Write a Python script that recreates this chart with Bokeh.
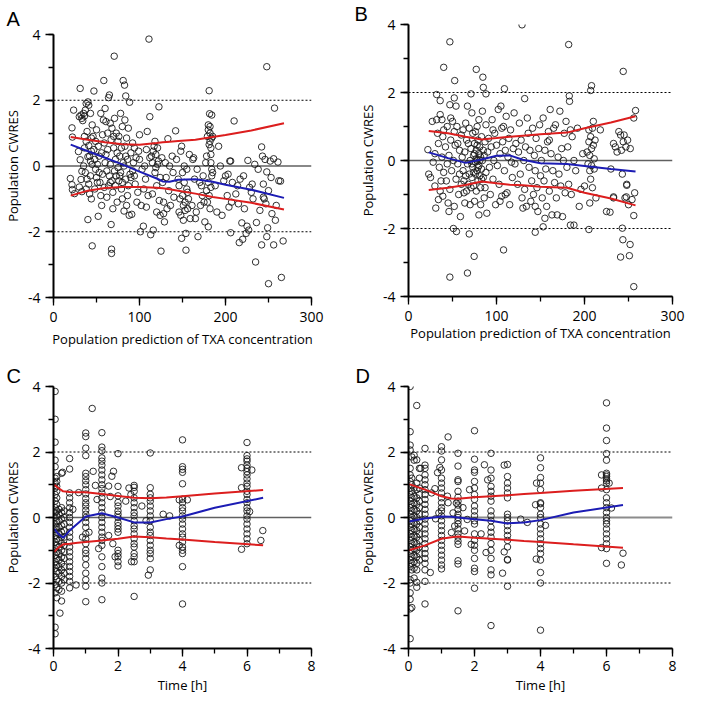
from bokeh.plotting import figure
from bokeh.layouts import row, column
from bokeh.models import Range1d, SingleIntervalTicker, Span, Title
from bokeh.embed import file_html
from bokeh.resources import INLINE

FONT = "Open Sans"
LETTER_FONT = "Liberation Sans"

# ---------------- Panel A : CWRES vs population prediction ----------------
a_points = [
    (19.6, -0.38), (21.5, -0.57), (22, -0.72), (23.4, 1.7), (21.5, 1.16), (22, 0.88), (24.5, -0.84), (30, -0.64),
    (29, 0.44), (31, 0.19), (33, -0.16), (32, -0.41), (31, 2.36),
    (30, 1.5), (32, 1.55), (33, 1.45), (34, 1.38), (35, 1.6), (36, 1.52), (37, 1.7), (38, 1.9), (40, 1.95), (41, 1.85),
    (36, 0.9), (38, 0.75), (39, 1.05), (41, 0.62), (42, 0.3), (40, 0.28), (43, 0.15), (44, 0.45), (35, 0.0), (37, -0.2),
    (39, -0.4), (41, -0.55), (43, -0.3), (45, 0.05), (38, -0.7), (42, -0.85), (44, -1.0), (40, -1.63), (45, -2.43),
    (33, -0.78), (36, 0.55), (44, 0.85), (45, 1.25), (43, 1.6),
    (46, 0.9), (47, 0.5), (48, 0.2), (49, -0.1), (50, -0.35), (51, 0.05), (52, 0.6), (53, 0.3), (54, -0.5), (55, -0.9),
    (56, -1.2), (57, 0.95), (58, 1.4), (59, 0.7), (60, 0.1), (47, 2.28), (58.5, 2.6), (52, -1.53), (48, -0.7), (50, 1.1),
    (55, 1.6), (57, -0.25), (59, -0.65), (60, 1.75), (53, -0.2), (56, 0.4), (49, 0.75), (51, -0.5),
    (61, 0.35), (62, -0.15), (63, 1.0), (64, 2.08), (65, 2.16), (66, 1.3), (67, 0.8), (68, -0.45), (69, -0.8), (70, 0.55),
    (71, 1.45), (72, 0.2), (73, -0.3), (74, -1.1), (75, 0.75), (70.6, 3.34), (67.5, -2.53), (67.5, -2.66), (67, -1.78),
    (62, -0.95), (64, -0.6), (66, 0.05), (68, 1.15), (72, -0.6), (74, 0.4), (61, 1.35), (73, 1.0), (75, -0.05),
    (69, -1.3), (65, -0.3), (63, 0.5), (71, -0.15), (66, -0.5), (70, 0.9),
    (76, 0.9), (77, 0.3), (78, -0.2), (79, -0.7), (80, 1.2), (81, 2.6), (82.6, 2.46), (84, 2.13), (82, -1.37), (83, 0.6),
    (84, -0.4), (85, -1.2), (86, 0.2), (87, 1.15), (88.5, 1.94), (89, -0.25), (90, 0.4), (78, 1.6), (80, -1.0),
    (82, 0.0), (85, 0.85), (87, -0.6), (88, -1.5), (90, -0.35), (76, -0.45), (79, 0.55), (83, 1.4), (86, -0.9),
    (77, -0.3), (81, 0.1), (84, 0.3), (80, -0.5),
    (91, -1.47), (92, 0.7), (93, 0.1), (94, -0.3), (95, -0.55), (96, 0.25), (98, -0.8), (99, 0.45), (100, 0.95),
    (101, -2.0), (102, -1.2), (103, -0.1), (104.5, -1.83), (105, -0.7), (97, -1.1), (100, 0.2), (92, -0.15), (94, 0.55),
    (106, 0.0), (107, -0.4), (108, 0.5), (109, 1.05), (111, 3.86), (112, 1.5), (113, -2.09), (114, 0.3), (115, 0.1),
    (116, -1.95), (117, 0.6), (118, -0.2), (119, 0.35), (120, -0.6), (121, 0.05), (122.6, 1.8), (123, -1.05),
    (124, -0.35), (125, -2.59), (115, -0.85), (118, 0.75), (120, -1.4), (110, -0.9), (112, 0.25), (116, 0.45),
    (119, -0.05), (122, 0.15), (108, -1.25), (124, -1.5), (121, 0.55),
    (126, 0.25), (127, -0.5), (128, -1.1), (129, -1.7), (130, 0.1), (131, -0.35), (133, 0.83), (134, -0.75),
    (136, -1.2), (138, 0.3), (140, -0.95), (142, 1.07), (143, 0.2), (145, -0.4), (128, -1.45), (132, -1.3),
    (135, 0.0), (139, -0.2),
    (146, -0.6), (147, -1.0), (148, -1.5), (149, -2.2), (149, 0.6), (150, -0.2), (150, -0.9), (151, -1.2),
    (151, -1.65), (152, 0.0), (152, -0.5), (153, -1.35), (153, -1.1), (154, -2.56), (154, -2.05), (155, -0.7),
    (155, -0.1), (156, -1.3), (156, -0.8), (158, 0.35), (148, 0.45), (146, -1.4), (157, -1.0), (159, -1.6),
    (161, -1.2), (162, 0.2), (163, 0.25), (164, -0.4), (165, -1.6), (166, -1.4), (168, -2.15), (170, -0.5),
    (171, -1.2), (172, -0.6), (174, -0.3), (175, -1.1), (176, -1.7), (177, 0.1), (167, -0.1), (173, -0.9),
    (178, 0.3), (179, 0.9), (180, 1.25), (180, 1.1), (181, 0.65), (181, 2.29), (181.5, 1.59), (182, 1.2), (182, 1.0),
    (182, 0.75), (183, 0.55), (183, 0.35), (183, 0.1), (184, -0.1), (184, -0.3), (180, -0.5), (181, -0.9),
    (179, -1.1), (182, -1.3), (180, -1.85), (185, 0.9), (185, -0.2), (184, 1.55), (183, -0.65), (178, -0.75),
    (184, 0.85),
    (188, -0.6), (190, -1.4), (192, 0.6), (194, 0.0), (196, -1.5), (198, -0.45), (200, -0.3), (202, -0.9),
    (204, -1.25), (205, 0.15), (206, 0.15), (206, -2.03), (208, -0.5), (210, 1.37), (203, -0.25), (207, -1.1),
    (212, -0.85), (214, -0.6), (216, -2.33), (217, -0.4), (219, -1.73), (220, -2.23), (221, -0.3), (222, -1.3),
    (224, -2.05), (225, -1.83), (226, 0.17), (228, -0.65), (230, -0.8), (232, -1.0), (234, 0.05), (235, -2.92),
    (236, -1.72), (238, -0.1), (240, -1.35), (215, -1.15), (227, -1.95), (231, -0.55),
    (242, 0.58), (242, -2.4), (243, 0.3), (244, -0.55), (245, -1.0), (246, 0.2), (247, -1.15), (248, -0.18),
    (248, -2.15), (249, -1.88), (250, -3.58), (250, -0.75), (252, 0.15), (253, -0.35), (254, -1.45), (256, 0.22),
    (256, -2.4), (257, 1.76), (258, -1.65), (259, -1.2), (261, 0.12), (262, -0.45), (264, -0.46), (265, -3.39),
    (267, -2.28), (248, 3.02), (244, -0.95),
]
a_fit_x = [20, 40, 60, 80, 100, 120, 127, 135, 145, 165, 185, 200, 230, 268]
a_upper = [0.88, 0.8, 0.72, 0.66, 0.65, 0.7, 0.72, 0.74, 0.76, 0.8, 0.88, 0.94, 1.08, 1.3]
a_lower = [-0.9, -0.75, -0.67, -0.64, -0.64, -0.66, -0.68, -0.71, -0.75, -0.84, -0.94, -1.0, -1.12, -1.32]
a_mid = [0.65, 0.45, 0.25, 0.05, -0.17, -0.38, -0.47, -0.48, -0.42, -0.4, -0.48, -0.57, -0.72, -0.97]

# ---------------- Panel B ----------------
b_points = [
    (129, 3.99), (47, 3.49), (182, 3.41), (40, 2.74), (77, 2.68), (52.5, 2.35), (84.5, 2.45), (85, 2.15), (109, 2.11),
    (244, 2.62), (208, 2.2), (207, 2.06), (182.7, 1.9), (183, 1.74), (132, 1.82), (32, 1.94), (71, 1.96), (88, 1.96),
    (36, 1.76), (52, 1.84), (47, 1.64), (258, 1.47),
    (47, -3.43), (67, -3.31), (74.6, -2.82), (69, -2.16), (108, -2.63), (51, -2.0), (54.5, -2.09), (144, -2.11),
    (153, -1.95), (205, -2.03), (188, -1.9), (184, -1.9), (243, -1.99), (243.6, -2.33), (251, -2.8), (251.8, -2.47),
    (256, -3.71), (241, -2.84), (256, -1.62), (257, -0.95), (248, -0.73), (247.5, -1.07), (233, -1.07), (229, -1.52),
    (22, 0.32), (23, -0.4), (25, -0.5), (28, -0.05), (30, -0.75), (31, -1.4), (32, 1.2), (33, 0.8), (34, 0.5),
    (35, -0.2), (36, 1.35), (37, -0.6), (38, 0.1), (39, -1.05), (40, 0.9), (40, -0.35), (34, -1.15), (36, -0.9),
    (30, 0.2), (27, 1.15), (38, 1.2), (39, 0.7),
    (42, 0.4), (43, -0.6), (44, 1.0), (45, -1.25), (46, 0.15), (47, -0.85), (48, 0.6), (49, -0.3), (50, 1.15),
    (51, 0.0), (52, -1.35), (53, 0.45), (54, -0.55), (55, 1.0), (56, -0.1), (57, -1.0), (58, 0.3), (59, -1.65),
    (60, 0.75), (44, -0.1), (48, 1.25), (52, 0.85), (56, 0.5), (58, -0.4), (60, -0.7), (54, 1.6), (46, -1.5),
    (61, 0.1), (62, -0.3), (63, -0.6), (64, 0.25), (65, 1.1), (66, -0.9), (67, -0.1), (68, 0.5), (69, -0.4),
    (70, -1.3), (70, 0.0), (71, 0.35), (72, -0.5), (72, 1.4), (73, -0.2), (73, 0.8), (74, -0.75), (74, 0.15),
    (75, -1.2), (75, 0.5), (76, -0.4), (76, -0.05), (77, 0.3), (77, -0.9), (78, 0.0), (78, -0.3), (78, 1.0),
    (79, -0.6), (79, 0.6), (80, 0.2), (80, -0.15), (80, -1.6), (81, 0.4), (81, -0.45), (82, 0.1), (82, -0.8),
    (83, 0.7), (83, -0.25), (84, 0.0), (84, 1.45), (85, -0.5), (85, 0.3), (86, -1.1), (86, 0.15), (87, 0.55),
    (88, -0.35), (88, 1.05), (89, -1.55), (90, 0.25), (62, 0.9), (64, -1.25), (66, 0.6), (68, -0.7), (67, 1.6),
    (69, 0.95), (71, -0.8), (76, 0.85), (80, 1.2), (82, -1.3), (87, -0.8), (63, -0.95), (65, -0.45),
    (74, -0.35), (77, 0.05), (79, -0.2), (81, 0.0), (83, -0.55), (75, 0.2), (78, 0.45), (72, -0.1),
    (91, 0.65), (92, -0.2), (93, -1.0), (94, 0.4), (95, 1.2), (96, -0.55), (97, 0.0), (98, 0.8), (99, -1.3),
    (100, 0.45), (101, -0.15), (102, 1.5), (103, -0.7), (104, 0.2), (105, 1.6), (106, -1.05), (107, 0.55),
    (108, 1.0), (109, -0.3), (110, 0.3), (111, 1.3), (112, -0.95), (113, 0.1), (114, 0.65), (115, -1.3), (116, 0.9),
    (118, -0.5), (119, 0.35), (120, 1.4), (104, -1.2), (106, 0.95), (110, -1.0), (117, -0.05), (96, 0.9),
    (121, -0.1), (122, 0.5), (124, -0.7), (125, 0.25), (126, 1.1), (127, -0.4), (128, 0.6), (130, -1.4), (131, 0.0),
    (132, -0.85), (133, 0.4), (134, -1.35), (136, 0.8), (137, -0.2), (138, 0.3), (140, -0.6), (141, 0.95),
    (142, -1.0), (143, 0.15), (144, -0.3), (145, 0.65), (146, -0.8), (147, -1.5), (148, 0.35), (149, 1.05),
    (150, -0.45), (129, -1.1), (135, 1.25), (139, -1.2), (144, -1.35),
    (151, 0.0), (152, -1.1), (153, 1.25), (154, -0.6), (155, 0.3), (156, -0.25), (157, -1.35), (158, 0.55),
    (159, 0.85), (160, -0.9), (161, 1.5), (162, 0.2), (163, -1.6), (164, -0.3), (165, 0.95), (166, -0.65),
    (167, 1.05), (168, -1.1), (170, 0.1), (171, -0.4), (172, 1.45), (173, -0.75), (174, 0.35), (175, -1.65),
    (176, 0.0), (177, 0.8), (178, -0.95), (179, 1.15), (180, -0.2), (155, -1.7), (160, 0.6), (169, -1.6),
    (181, 0.4), (182, -0.7), (184, 0.9), (185, -1.0), (186, 0.7), (188, 0.0), (190, -0.3), (192, 0.95),
    (194, -1.35), (196, -0.85), (198, 0.2), (200, -0.75), (203, 0.25), (204, -0.1), (205, 0.55), (205, 0.9),
    (206, -0.3), (206, 0.15), (207, 0.7), (207, -0.55), (208, 0.35), (208, -0.15), (209, 0.95), (209, -0.8),
    (210, 0.45), (210, 1.15), (211, 0.05), (211, -0.25), (212, 0.6), (213, -1.1), (206, -1.25),
    (218, 0.9), (225, -1.5), (230, -0.25), (233, 0.5), (235, 0.4), (237, 0.25), (239, 0.85), (241, 0.75),
    (242, 0.3), (243, -0.4), (244, 0.55), (245, 0.75), (246, -1.1), (247, 0.4), (248, -0.7), (249, 0.6),
    (250, -1.3), (252, 0.35), (254, -1.15), (256, 1.25), (233, -1.1),
]
b_fit_x = [23, 45, 65, 83, 100, 115, 130, 150, 180, 200, 230, 258]
b_upper = [0.87, 0.8, 0.7, 0.62, 0.66, 0.7, 0.73, 0.77, 0.82, 0.95, 1.12, 1.3]
b_lower = [-0.87, -0.8, -0.72, -0.62, -0.67, -0.71, -0.73, -0.77, -0.8, -0.95, -1.12, -1.32]
b_mid = [0.24, 0.07, -0.07, 0.03, 0.14, 0.15, 0.02, -0.08, -0.1, -0.16, -0.25, -0.32]

# ---------------- Panel C : CWRES vs time ----------------
c_times = [0.05, 0.1, 0.17, 0.25, 0.33, 0.5, 1.0, 1.5, 2.0, 2.5, 3.0, 4.0, 6.0]
c_values = [
    [3.85, 3.0, 2.3, 1.75, 1.55, 1.2, 1.05, 0.9, 0.7, 0.5, 0.3, 0.15, 0.0, -0.2, -0.35, -0.55, -0.75, -0.95,
     -1.15, -1.35, -1.55, -1.8, -2.05, -2.3, -3.35, -3.55],
    [1.25, 1.1, 0.95, 0.8, 0.6, 0.4, 0.2, 0.05, -0.1, -0.3, -0.45, -0.65, -0.85, -1.05, -1.25, -1.45, -1.65,
     -1.9, -2.15, -2.45],
    [0.25, 0.1, -0.1, -0.3, -0.5, -0.7, -0.9, -1.1, -1.3, -1.5, -1.7, -1.95, -2.2],
    [1.35, 0.3, 0.15, -0.05, -0.25, -0.45, -0.6, -0.8, -1.0, -1.2, -1.4, -1.6, -1.8, -2.0, -2.25, -2.55],
    [0.2, 0.0, -0.2, -0.4, -0.6, -0.85, -1.05, -1.25, -1.5, -1.7, -1.9],
    [1.8, 1.48, 0.75, 0.6, 0.45, 0.3, 0.15, 0.0, -0.15, -0.3, -0.45, -0.6, -0.75, -0.9, -1.05, -1.2, -1.35,
     -1.5, -1.65, -1.8, -1.95, -2.15],
    [2.58, 2.47, 2.12, 1.89, 1.35, 1.25, 1.12, 1.0, 0.85, 0.72, 0.58, 0.45, 0.35, 0.22, 0.1, 0.0, -0.15, -0.3,
     -0.5, -0.65, -0.8, -1.0, -1.1, -1.25, -1.45, -1.7, -1.9, -2.1, -2.57],
    [2.59, 2.15, 2.04, 1.82, 1.72, 1.6, 1.45, 1.3, 1.15, 1.0, 0.88, 0.75, 0.6, 0.45, 0.3, 0.15, 0.0, -0.15,
     -0.3, -0.45, -0.6, -0.7, -0.85, -1.2, -1.5, -1.85, -2.0, -2.51],
    [1.95, 0.95, 0.66, 0.46, 0.35, 0.2, 0.1, 0.0, -0.15, -0.25, -0.35, -0.45, -1.0, -1.1, -1.2, -1.35, -1.48],
    [0.98, 0.92, 0.8, 0.6, 0.45, 0.3, 0.15, 0.05, -0.1, -0.25, -0.35, -0.5, -0.65, -0.8, -0.9, -1.1, -1.2,
     -1.35, -2.41],
    [1.97, 0.91, 0.71, 0.6, 0.5, 0.35, 0.2, 0.05, -0.1, -0.3, -0.45, -0.55, -0.7, -0.85, -1.0, -1.1, -1.25, -1.6],
    [2.37, 1.55, 1.47, 1.38, 1.03, 0.56, 0.45, 0.3, 0.2, 0.05, -0.05, -0.2, -0.35, -0.5, -0.6, -0.75, -0.9,
     -1.0, -1.1, -1.5, -2.64],
    [2.29, 1.89, 1.79, 1.72, 1.6, 1.5, 1.4, 1.3, 1.18, 1.05, 0.95, 0.8, 0.7, 0.55, 0.45, 0.3, 0.2, 0.05, -0.05,
     -0.2, -0.35, -0.5, -0.65, -0.8],
]
c_extra = [
    (0.2, -2.92), (0.28, 1.38), (0.7, -2.06), (0.78, 0.76), (1.2, 3.33), (1.23, 1.41), (1.3, 0.98), (1.35, 0.55),
    (1.71, 0.96), (1.76, 0.64), (1.81, 1.26), (1.86, 1.41), (1.71, -0.55), (1.84, -0.8), (1.91, -1.2),
    (2.24, 0.5), (2.34, 0.9), (2.4, 0.7), (2.42, -1.35), (2.74, 0.35), (2.87, -0.1), (2.94, -1.76), (3.4, 0.1),
    (3.6, 0.05), (3.9, 0.54), (3.9, -0.85), (4.15, 0.54), (5.83, 1.52), (5.83, 0.91), (5.83, -0.97), (6.15, 1.45),
    (6.08, 0.18), (6.49, -0.4), (6.43, -0.7), (1.1, -0.45), (1.4, -0.95), (0.6, 0.25), (0.9, -0.6),
]
c_fit_t = [0.02, 0.15, 0.3, 0.5, 0.75, 1.0, 1.5, 2.0, 2.5, 3.0, 3.5, 4.0, 5.0, 6.5]
c_upper = [1.0, 0.9, 0.8, 0.78, 0.77, 0.77, 0.72, 0.66, 0.6, 0.59, 0.61, 0.65, 0.73, 0.84]
c_lower = [-1.05, -0.92, -0.82, -0.8, -0.77, -0.75, -0.7, -0.65, -0.58, -0.6, -0.64, -0.67, -0.75, -0.85]
c_mid = [-0.35, -0.5, -0.62, -0.4, -0.18, 0.03, 0.13, 0.0, -0.15, -0.15, -0.05, 0.03, 0.3, 0.6]

# ---------------- Panel D ----------------
d_times = [0.05, 0.1, 0.17, 0.25, 0.33, 0.5, 1.0, 1.5, 2.0, 2.5, 3.0, 4.0, 6.0]
d_values = [
    [4.0, 2.62, 2.21, 2.06, 1.5, 1.3, 1.1, 0.9, 0.7, 0.5, 0.3, 0.1, -0.1, -0.3, -0.5, -0.7, -0.9, -1.1, -1.3,
     -1.5, -1.9, -2.0, -2.3, -2.5, -2.79, -3.7],
    [1.85, 1.2, 1.0, 0.8, 0.6, 0.4, 0.2, 0.0, -0.2, -0.4, -0.6, -0.8, -1.0, -1.2, -1.4, -1.6, -2.75],
    [1.9, 1.75, 0.9, 0.65, 0.45, 0.25, 0.05, -0.15, -0.35, -0.55, -0.75, -0.95, -1.15, -1.35, -1.55, -1.85],
    [3.42, 1.76, 1.05, 0.85, 0.6, 0.4, 0.2, 0.0, -0.2, -0.4, -0.6, -0.8, -1.0, -1.2, -1.4, -1.6, -1.98, -2.13],
    [1.5, 1.2, 0.9, 0.7, 0.5, 0.3, 0.1, -0.1, -0.3, -0.5, -0.7, -0.9, -1.1, -1.3],
    [2.11, 1.6, 1.5, 1.3, 1.15, 1.0, 0.85, 0.7, 0.55, 0.4, 0.25, 0.1, -0.05, -0.2, -0.35, -0.5, -0.65, -0.8,
     -0.95, -1.1, -1.25, -1.4, -1.6, -1.95, -2.64],
    [2.16, 2.03, 1.76, 1.45, 1.2, 1.05, 0.9, 0.75, 0.6, 0.45, 0.3, 0.2, 0.05, -0.1, -0.25, -0.4, -0.55, -0.7,
     -0.85, -1.0, -1.15, -1.3, -1.45, -1.57],
    [1.96, 1.57, 1.15, 1.1, 0.8, 0.62, 0.5, 0.38, 0.25, 0.1, 0.0, -0.1, -0.2, -0.35, -0.5, -0.6, -0.72, -0.82,
     -1.32, -1.42, -2.85],
    [2.65, 1.78, 1.45, 1.38, 1.1, 0.9, 0.7, 0.55, 0.35, 0.2, 0.05, -0.1, -0.2, -0.5, -0.7, -0.85, -1.0, -1.25,
     -1.55, -1.65, -2.16],
    [1.96, 1.45, 1.2, 0.95, 0.8, 0.65, 0.5, 0.2, 0.05, -0.1, -0.3, -0.45, -0.6, -0.8, -1.0, -1.25, -1.6, -1.75,
     -3.3],
    [1.62, 1.25, 1.05, 0.9, 0.75, 0.6, 0.1, 0.0, -0.1, -0.25, -0.4, -0.55, -0.7, -0.9, -1.28, -1.3, -2.1],
    [1.82, 1.52, 1.22, 1.05, 0.85, 0.45, 0.42, 0.3, 0.1, 0.0, -0.2, -0.35, -0.5, -0.65, -0.8, -0.95, -1.1, -1.3,
     -1.68, -2.0, -3.44],
    [3.5, 2.73, 2.35, 1.95, 1.75, 1.35, 1.3, 1.25, 1.18, 1.12, 1.05, 0.85, 0.6, 0.45, 0.3, 0.15, 0.0, -0.1,
     -0.2, -0.35, -0.5, -0.65, -0.8, -0.95, -1.4],
]
d_extra = [
    (0.37, 1.5), (0.66, -1.68), (0.8, 0.88), (0.88, 1.37), (0.95, 1.53), (0.92, 0.14), (0.82, -0.04), (1.2, 2.46),
    (1.18, 0.65), (1.35, 0.14), (1.4, -0.26), (1.3, -0.46), (1.45, 0.44), (1.7, -0.41), (1.85, 0.85),
    (1.78, -0.06), (1.9, -0.82), (2.3, 1.61), (2.4, 1.15), (2.35, -1.07), (2.9, 1.6), (2.9, -1.05), (2.85, -1.7),
    (3.4, -0.05), (3.6, -0.15), (3.85, 0.39), (3.88, 1.05), (3.87, -1.27), (4.15, -0.24), (5.85, 0.9),
    (5.85, 1.3), (5.85, -0.92), (6.15, 0.29), (6.08, 1.05), (6.45, -1.45), (6.5, -1.09), (2.2, -0.5), (1.65, 0.3),
    (0.7, 0.75), (1.2, 0.45),
]
d_fit_t = [0.02, 0.5, 1.0, 1.3, 1.5, 2.0, 2.5, 3.0, 3.5, 4.0, 5.0, 6.5]
d_upper = [1.02, 0.85, 0.65, 0.58, 0.57, 0.62, 0.65, 0.68, 0.72, 0.75, 0.82, 0.9]
d_lower = [-1.0, -0.85, -0.65, -0.6, -0.58, -0.62, -0.65, -0.68, -0.72, -0.75, -0.82, -0.92]
d_mid = [-0.12, -0.03, 0.03, 0.02, 0.0, -0.05, -0.1, -0.18, -0.15, -0.08, 0.15, 0.38]

y_label = "Population CWRES"
x_label_conc = "Population prediction of TXA concentration"
x_label_time = "Time [h]"

RED = "#dc1e1e"
BLUE = "#1c1cb4"


def make_panel(width, height, bl, br, bt, bb, xmax, xint, xlabel, letter, loff, lstand,
               xstand, xlstand, zero_color="#606060", zero_width=1.4):
    title = Title(text=letter, align="left", offset=loff, text_font=LETTER_FONT, text_font_size="20px",
                  text_font_style="normal", text_color="black", standoff=lstand)
    p = figure(width=width, height=height, x_range=Range1d(0, xmax), y_range=Range1d(-4, 4),
               output_backend="svg", toolbar_location=None, title=title,
               min_border_left=bl, min_border_right=br, min_border_top=bt, min_border_bottom=bb)
    p.outline_line_color = None
    p.xgrid.visible = False
    p.ygrid.visible = False
    p.background_fill_color = "white"
    p.border_fill_color = "white"
    p.xaxis.ticker = SingleIntervalTicker(interval=xint, num_minor_ticks=2)
    p.yaxis.ticker = SingleIntervalTicker(interval=2, num_minor_ticks=2)
    p.yaxis.major_label_overrides = {-4: "-4", -2: "-2", 0: "0", 2: "2", 4: "4"}
    for ax in (p.xaxis[0], p.yaxis[0]):
        ax.axis_line_width = 2
        ax.axis_line_color = "black"
        ax.major_tick_line_color = "black"
        ax.minor_tick_line_color = "black"
        ax.major_tick_line_width = 1.3
        ax.minor_tick_line_width = 1.3
        ax.major_tick_in = 0
        ax.major_tick_out = 8
        ax.minor_tick_in = 0
        ax.minor_tick_out = 5
        ax.major_label_text_font = FONT
        ax.major_label_text_font_size = "14px"
        ax.major_label_text_color = "black"
        ax.axis_label_text_font = FONT
        ax.axis_label_text_font_size = "13px"
        ax.axis_label_text_font_style = "normal"
        ax.axis_label_text_color = "black"
    p.yaxis.major_label_standoff = 5
    p.yaxis.axis_label_standoff = 3
    p.xaxis.major_label_standoff = xstand
    p.xaxis.axis_label_standoff = xlstand
    p.xaxis.axis_label = xlabel
    p.yaxis.axis_label = y_label
    p.add_layout(Span(location=0, dimension="width", line_color=zero_color, line_width=zero_width, level="underlay"))
    p.add_layout(Span(location=2, dimension="width", line_color="black", line_width=1, line_dash="2 2", level="underlay"))
    p.add_layout(Span(location=-2, dimension="width", line_color="black", line_width=1, line_dash="2 2", level="underlay"))
    return p


def draw(p, xs, ys, fx, up, lo, mid):
    p.scatter(xs, ys, marker="circle", size=6.5, fill_color=None, line_color="#1a1a1a", line_width=0.9)
    p.line(fx, up, line_color=RED, line_width=2)
    p.line(fx, lo, line_color=RED, line_width=2)
    p.line(fx, mid, line_color=BLUE, line_width=2)


def flatten(times, values, extra):
    xs, ys = [], []
    for t, vals in zip(times, values):
        for v in vals:
            xs.append(t)
            ys.append(v)
    for t, v in extra:
        xs.append(t)
        ys.append(v)
    return xs, ys


pA = make_panel(347, 354, 48, 36, 33, 57, 300, 100, x_label_conc, "A", -47, 10, 6, 5)
draw(pA, [q[0] for q in a_points], [q[1] for q in a_points], a_fit_x, a_upper, a_lower, a_mid)

pB = make_panel(346, 354, 59, 11, 10, 58, 300, 100, x_label_conc, "B", -54, 0, 6, 0)
draw(pB, [q[0] for q in b_points], [q[1] for q in b_points], b_fit_x, b_upper, b_lower, b_mid)

pC = make_panel(347, 344, 48, 36, 32, 50, 8, 2, x_label_time, "C", -47, 0, 4, 2)
cx, cy = flatten(c_times, c_values, c_extra)
draw(pC, cx, cy, c_fit_t, c_upper, c_lower, c_mid)

pD = make_panel(346, 344, 61, 21, 32, 50, 8, 2, x_label_time, "D", -53, 0, 4, 2,
                zero_color="#8c8c8c", zero_width=2.2)
dx, dy = flatten(d_times, d_values, d_extra)
draw(pD, dx, dy, d_fit_t, d_upper, d_lower, d_mid)

layout = row(column(pA, pC), column(pB, pD))
open("out.html", "w").write(file_html(layout, INLINE))
